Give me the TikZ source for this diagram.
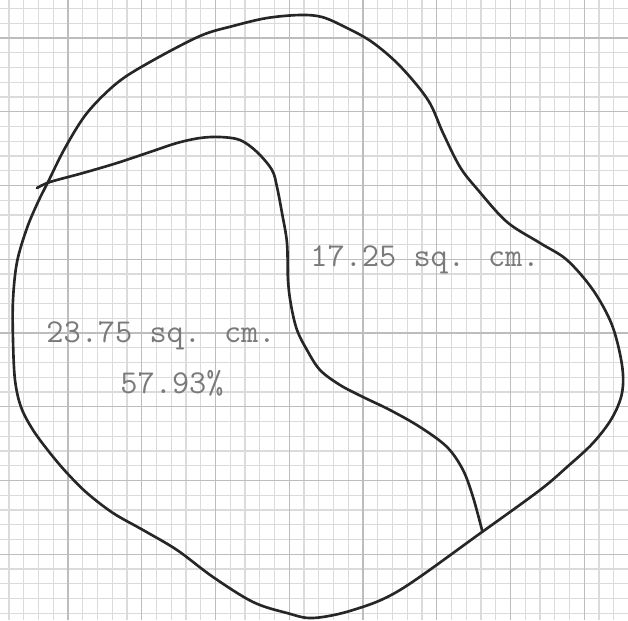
\documentclass[tikz,border=0pt]{standalone}
\usepackage{tikz}

\begin{document}
\begin{tikzpicture}[
  x=0.02cm, y=-0.02cm,
  minorline/.style={draw=black!14, line width=0.6pt},
  majorline/.style={draw=black!26, line width=0.8pt},
  pencil/.style={draw=black!85, line width=1.5pt, line cap=round, line join=round},
  typed/.style={text=black!52, inner sep=0pt, anchor=base,
               font=\fontsize{19}{21}\selectfont\ttfamily}
]
\useasboundingbox[fill=white] (0,0) rectangle (628,620);

\foreach \k in {0,...,41} {
  \draw[minorline] ({9+14.75*\k},0) -- ({9+14.75*\k},620);
  \draw[minorline] (0,{8.5+14.75*\k}) -- (628,{8.5+14.75*\k});
}
\foreach \k in {4,9,...,39}
  \draw[majorline] ({9+14.75*\k},0) -- ({9+14.75*\k},620);
\foreach \k in {2,7,...,37}
  \draw[majorline] (0,{8.5+14.75*\k}) -- (628,{8.5+14.75*\k});

\draw[pencil] plot[smooth cycle, tension=0.55] coordinates {
  (13,300) (17,262) (27,228) (38,202) (48,182) (65,148) (87,113) (117,83)
  (150,62) (200,36) (233,26) (267,18) (300,15) (322,17) (345,27) (372,42)
  (400,66) (428,100) (443,133) (460,167) (478,190) (507,222) (540,243)
  (567,260) (593,290) (612,325) (622,365) (622,393) (612,418) (593,443)
  (567,467) (540,490) (482,532) (400,590) (353,610) (313,618) (287,613)
  (253,602) (213,577) (177,550) (143,530) (113,513) (87,493) (67,473)
  (50,453) (33,430) (21,407) (15,380) (13,340)};

\draw[pencil] plot[smooth, tension=0.55] coordinates {
  (37,188) (50,182) (83,173) (117,163) (150,152) (177,143) (200,138)
  (220,137) (240,140) (257,152) (272,170) (277,187) (282,213) (287,243)
  (288,280) (291,305) (297,330) (307,350) (320,370) (340,385) (363,397)
  (390,410) (420,427) (447,447) (463,470) (473,497) (482,530)};

\node[typed] (bigarea) at (161,342) {23.75 sq. cm.};
\node[typed] (bigshare) at (172,393) {57.93\%};
\node[typed] (smallarea) at (425,266) {17.25 sq. cm.};

\end{tikzpicture}
\end{document}
